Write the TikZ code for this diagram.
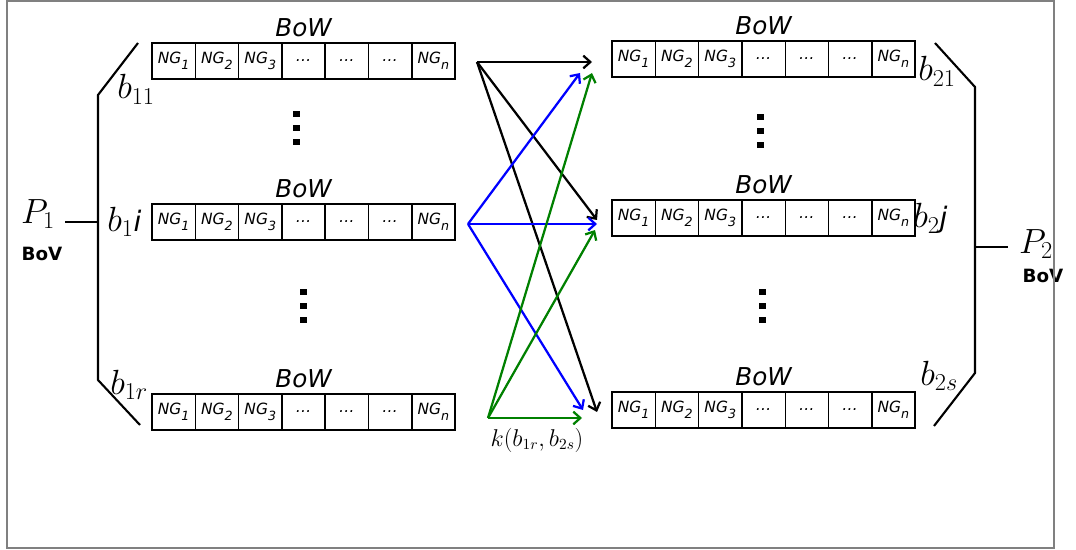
\documentclass[tikz,border=0pt]{standalone}
\usepackage{fontspec}
\newfontfamily\dejavu{DejaVu Sans}
\usetikzlibrary{arrows.meta}
\pgfdeclarelayer{nodelayer}
\pgfdeclarelayer{edgelayer}
\pgfsetlayers{edgelayer,nodelayer,main}
\newcommand{\ngram}[1]{NG\raisebox{-0.4em}{\fontsize{9}{9}\selectfont #1}}
\tikzstyle{cell}=[fill=white, draw=black, line width=1pt, shape=rectangle, inner sep=0pt, minimum width=1.0825cm, minimum height=0.9cm, font=\dejavu\itshape\fontsize{11}{12}\selectfont]
\tikzstyle{bow}=[anchor=base, inner sep=0pt, yshift=4pt, font=\dejavu\itshape\fontsize{17.5}{20}\selectfont]
\tikzstyle{bov}=[inner sep=0pt, font=\dejavu\bfseries\fontsize{13}{15}\selectfont]
\tikzstyle{lab}=[inner sep=0pt, anchor=base west, font=\fontsize{24}{28}\selectfont]
\tikzstyle{vdot}=[fill=black, draw=none, shape=rectangle, inner sep=0pt, minimum width=0.175cm, minimum height=0.15cm]
\tikzstyle{bracket}=[draw=black, line width=1.5pt]
\tikzstyle{black edge}=[draw=black, line width=1.6pt, -{Straight Barb[length=5pt,width=9pt]}]
\tikzstyle{blue edge}=[draw=blue, line width=1.6pt, -{Straight Barb[length=5pt,width=9pt]}]
\tikzstyle{green edge}=[draw=green!50!black, line width=1.6pt, -{Straight Barb[length=5pt,width=9pt]}]

\begin{document}
\begin{tikzpicture}[x=0.025cm, y=-0.025cm]
	\useasboundingbox (0,0) rectangle (1076,550);
	\draw [draw=gray, line width=1pt] (7,1) rectangle (1054,548);
	\begin{pgfonlayer}{nodelayer}
		% the six bags of words
		\foreach \r/\xa/\yc in {l1/152/61, li/152/222, lr/152/412, r1/612/59, rj/612/218, rs/612/410} {
			\foreach \k/\t in {1/\ngram{1}, 2/\ngram{2}, 3/\ngram{3}, 4/\ldots, 5/\ldots, 6/\ldots, 7/\ngram{n}} {
				\node [style=cell] (\r-\k) at ({\xa+(\k-0.5)*43.3}, \yc) {\t};
			}
			\node [style=bow] (\r-bow) at (\r-4.north) {BoW};
		}
		% vertical dots
		\foreach \n/\x/\y in {l1/296/114, l2/303/292, r1/760/117, r2/762/292} {
			\node [style=vdot] (\n-a) at (\x, \y) {};
			\node [style=vdot] (\n-b) at (\x, \y+14) {};
			\node [style=vdot] (\n-c) at (\x, \y+28) {};
		}
		\node [inner sep=0pt, font=\fontsize{24}{28}\selectfont] (p1) at (38, 214) {$P_1$};
		\node [style=bov] (bov1) at (42, 254) {BoV};
		\node [inner sep=0pt, font=\fontsize{24}{28}\selectfont] (p2) at (1036, 244) {$P_2$};
		\node [style=bov] (bov2) at (1043, 276) {BoV};
		\node [style=lab] (b11) at (117, 99) {$b_{11}$};
		\node [style=lab] (b1i) at (107, 231) {$b_1${\dejavu\itshape\fontsize{20}{24}\selectfont i}};
		\node [style=lab] (b1r) at (110, 394) {$b_{1r}$};
		\node [style=lab] (b21) at (918, 81) {$b_{21}$};
		\node [style=lab] (b2j) at (913, 228) {$b_2${\dejavu\itshape\fontsize{20}{24}\selectfont j}};
		\node [style=lab] (b2s) at (920, 385) {$b_{2s}$};
		\node [inner sep=0pt, font=\fontsize{16}{18}\selectfont] (k) at (537, 440) {$k(b_{1r},b_{2s})$};
	\end{pgfonlayer}
	% brackets
	\coordinate (lt) at (138, 43);
	\coordinate (lu) at (98, 95);
	\coordinate (ld) at (98, 380);
	\coordinate (lb) at (140, 425);
	\coordinate (lm) at (98, 222);
	\coordinate (lp) at (65, 222);
	\coordinate (rt) at (935, 43);
	\coordinate (ru) at (975, 87);
	\coordinate (rd) at (975, 373);
	\coordinate (rb) at (934, 426);
	\coordinate (rm) at (975, 247);
	\coordinate (rp) at (1008, 247);
	\draw [style=bracket] (lt) -- (lu) -- (ld) -- (lb);
	\draw [style=bracket] (rt) -- (ru) -- (rd) -- (rb);
	\draw [style=bracket] (lp) -- (lm);
	\draw [style=bracket] (rm) -- (rp);
	% kernel arrows
	\coordinate (sk) at (477, 62);
	\coordinate (sb) at (468, 224);
	\coordinate (sg) at (488, 418);
	\coordinate (k1) at (592, 62);
	\coordinate (k2) at (597, 220);
	\coordinate (k3) at (597, 412);
	\coordinate (u1) at (580, 73);
	\coordinate (u2) at (597, 224);
	\coordinate (u3) at (583, 410);
	\coordinate (g1) at (592, 73);
	\coordinate (g2) at (595, 230);
	\coordinate (g3) at (582, 418);
	\begin{pgfonlayer}{edgelayer}
		\draw [style=black edge] (sk) to (k1);
		\draw [style=black edge] (sk) to (k2);
		\draw [style=black edge] (sk) to (k3);
		\draw [style=blue edge] (sb) to (u1);
		\draw [style=blue edge] (sb) to (u2);
		\draw [style=blue edge] (sb) to (u3);
		\draw [style=green edge] (sg) to (g1);
		\draw [style=green edge] (sg) to (g2);
		\draw [style=green edge] (sg) to (g3);
	\end{pgfonlayer}
\end{tikzpicture}
\end{document}
